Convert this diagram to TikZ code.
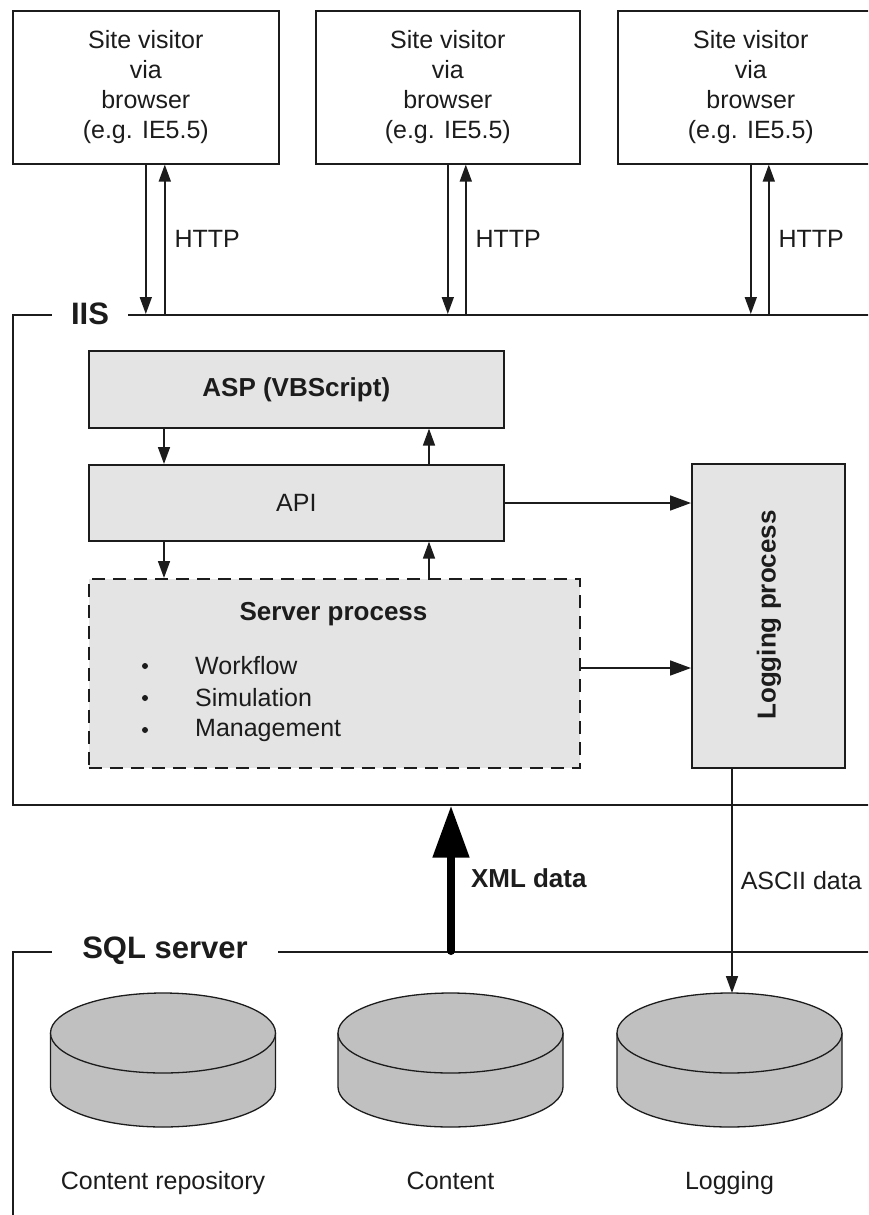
\documentclass[tikz,border=0pt]{standalone}
\usepackage{fontspec}
\setmainfont{Liberation Sans}
\usetikzlibrary{arrows.meta,calc}
\definecolor{boxgray}{HTML}{E4E4E4}
\definecolor{cylgray}{HTML}{C0C0C0}
\definecolor{ink}{HTML}{1C1C1C}
\newcommand\regtxt{\fontsize{25}{30}\selectfont}
\newcommand\boldtxt{\fontsize{26}{31}\selectfont\bfseries}
\newcommand\hdrtxt{\fontsize{31}{36}\selectfont\bfseries}
\newcommand\dbdisk[3]{%
  \fill[cylgray] (#2-112.5,1033) -- (#2-112.5,1087)
     arc[start angle=180,end angle=360,x radius=112.5pt,y radius=40pt]
     -- (#2+112.5,1033) -- cycle;
  \draw[ink,line width=1.3pt] (#2-112.5,1033) -- (#2-112.5,1087)
     arc[start angle=180,end angle=360,x radius=112.5pt,y radius=40pt]
     -- (#2+112.5,1033);
  \draw[ink,line width=1.3pt,fill=cylgray] (#2,1033) ellipse[x radius=112.5pt,y radius=40pt];
  \coordinate (#1) at (#2,993);
  \node[txt,anchor=base] (#1lbl) at (#2,1189) {#3};
}
\begin{document}
\begin{tikzpicture}[x=1pt,y=-1pt,
  txt/.style={text=ink,font=\regtxt,inner sep=0pt},
  frame/.style={draw=ink,line width=1.6pt,anchor=north west,inner sep=0pt},
  hdr/.style={text=ink,font=\hdrtxt,fill=white,inner ysep=3pt},
  visitor/.style={draw=ink,line width=1.6pt,fill=white,anchor=north west,
    minimum height=153pt,align=center,font=\regtxt,text=ink,inner sep=0pt},
  layer/.style={draw=ink,line width=1.6pt,fill=boxgray,anchor=north west,inner sep=0pt,text=ink},
  sarrow/.style={draw=ink,line width=1.6pt,-{Triangle[length=17pt,width=12pt]}},
  barrow/.style={draw=ink,line width=1.6pt,-{Triangle[length=21pt,width=15pt]}},
  xmlarrow/.style={draw=black,line width=8pt,line cap=round,-{Triangle[length=52pt,width=35pt]}}
]
\useasboundingbox (0,0) rectangle (868,1215);
\clip (0,0) rectangle (868,1215);

% frames
\node[frame,minimum width=950pt,minimum height=490pt] (iis) at (12,314) {};
\node[frame,minimum width=950pt,minimum height=400pt] (sql) at (12,951) {};
\node[hdr,inner xsep=19pt] (iislbl) at (90,314) {IIS};
\node[hdr,inner xsep=30pt] (sqllbl) at (165,951) {SQL server};

% visitors
\node[visitor,minimum width=266pt] (b1) at (12,10) {Site visitor\\via\\browser\\(e.g. IE5.5)};
\node[visitor,minimum width=264pt] (b2) at (315,10) {Site visitor\\via\\browser\\(e.g. IE5.5)};
\node[visitor,minimum width=266pt] (b3) at (617,10) {Site visitor\\via\\browser\\(e.g. IE5.5)};

\foreach \b/\s in {b1/19pt,b2/18pt,b3/18pt}{
  \coordinate (\b up) at ([xshift=\s]\b.south);
  \draw[sarrow] (\b.south) -- (\b.south |- iis.north);
  \draw[sarrow] (\b up |- iis.north) -- (\b up)
    node[midway,right=9pt,txt] (\b http) {HTTP};
}

% inner layers
\node[layer,minimum width=415pt,minimum height=77pt,font=\boldtxt] (asp) at (88,350) {ASP (VBScript)};
\node[layer,minimum width=415pt,minimum height=76pt,font=\regtxt] (api) at (88,464) {API};
\node[layer,minimum width=491pt,minimum height=189pt,dash pattern=on 13pt off 8pt] (srv) at (88,578) {};
\node[layer,minimum width=153pt,minimum height=304pt] (logp) at (691,463) {};
\node[text=ink,font=\boldtxt,rotate=90,inner sep=0pt] (logplbl) at (769,615) {Logging process};

\node[text=ink,font=\boldtxt,inner sep=0pt] (srvttl) at (333.5,614) {Server process};
\foreach \t/\yy in {Workflow/666,Simulation/698,Management/730}{
  \node[fill=ink,circle,inner sep=0pt,minimum size=6pt] (bul\t) at (145,\yy) {};
  \node[txt,anchor=west] (it\t) at (195,\yy) {\t};
}

\coordinate (colL) at (164,0);
\coordinate (colR) at (429,0);
\draw[sarrow] (asp.south -| colL) -- (api.north -| colL);
\draw[sarrow] (api.north -| colR) -- (asp.south -| colR);
\draw[sarrow] (api.south -| colL) -- (srv.north -| colL);
\draw[sarrow] (srv.north -| colR) -- (api.south -| colR);

\coordinate (row1) at (0,503);
\coordinate (row2) at (0,668);
\draw[barrow] (api.east |- row1) -- (logp.west |- row1);
\draw[barrow] (srv.east |- row2) -- (logp.west |- row2);

% databases
\dbdisk{dbrepo}{163}{Content repository}
\dbdisk{dbcont}{450.5}{Content}
\dbdisk{dblog}{729.5}{Logging}

\coordinate (colA) at (732,0);
\draw[sarrow] (logp.south -| colA) -- (colA |- dblog)
  node[midway,right=8pt,txt] (ascii) {ASCII data};

\coordinate (colX) at (451,0);
\draw[xmlarrow] (colX |- sql.north) -- (colX |- iis.south)
  node[midway,right=16pt,text=ink,font=\boldtxt,inner sep=0pt] (xml) {XML data};
\end{tikzpicture}
\end{document}
